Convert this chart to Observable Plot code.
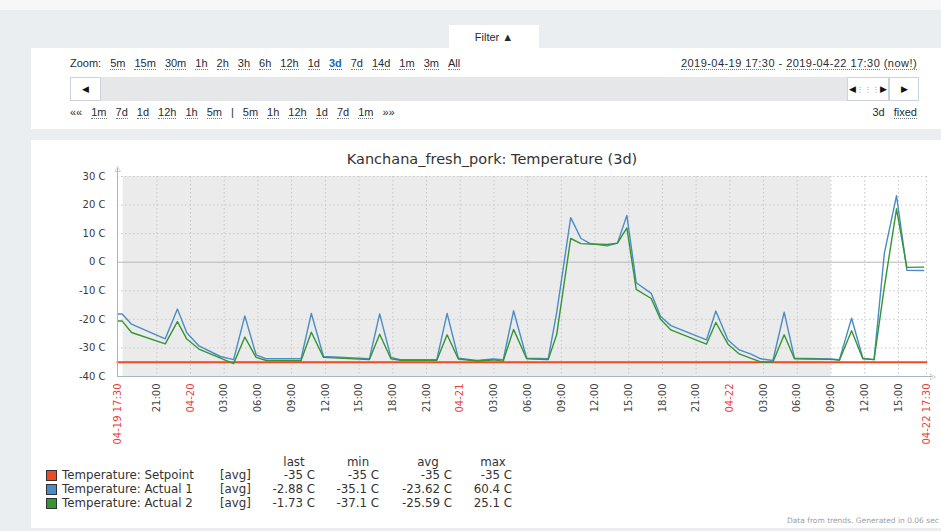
<!DOCTYPE html>
<html><head><meta charset="utf-8">
<script src="https://cdn.jsdelivr.net/npm/d3@7"></script>
<script src="https://cdn.jsdelivr.net/npm/@observablehq/plot@0.6"></script>
<style>
html,body{margin:0;padding:0;}
body{width:941px;height:531px;overflow:hidden;background:#ebeef0;position:relative;font-family:Arial,"Liberation Sans",sans-serif;color:#1f2c33;}
.abs{position:absolute;white-space:nowrap;}
.topstrip{left:0;top:0;width:941px;height:10px;background:#f6f7f8;}
.fpanel{left:31px;top:48px;width:910px;height:81px;background:#fff;}
.tab{left:449px;top:25px;width:90px;height:24px;background:#fff;font-size:11px;line-height:24px;text-align:center;}
.row{font-size:11px;line-height:13px;}
.row span{margin-right:9px;}
.lk{border-bottom:1px dotted #6d7a84;}
.sel{color:#1a66c2;font-weight:bold;border-bottom:1px dotted #1a66c2;}
.sbar{left:70px;top:77px;width:848px;height:24px;background:#e5e7e9;}
.btn{top:77px;height:22px;background:#fff;border:1px solid #cdd3d8;font-size:9px;line-height:22px;text-align:center;color:#111;}
.cpanel{left:31px;top:140px;width:910px;height:388px;background:#fff;}
.title{left:192px;width:600px;top:150px;text-align:center;font-family:"DejaVu Sans";font-size:14.5px;color:#333;line-height:18px;}
.lg{font-family:"DejaVu Sans";font-size:11.8px;color:#333;line-height:14px;}
.sq{width:9px;height:9px;border:1px solid #333;}
.foot{left:787px;top:516px;font-family:"DejaVu Sans";font-size:7.5px;color:#9aa0a5;}
#chart{position:absolute;left:0;top:166px;}
</style></head>
<body>
<div class="abs topstrip"></div>
<div class="abs fpanel"></div>
<div class="abs tab">Filter &#9650;</div>
<div class="abs row" style="left:70px;top:57px;"><span>Zoom:</span><span class="lk">5m</span><span class="lk">15m</span><span class="lk">30m</span><span class="lk">1h</span><span class="lk">2h</span><span class="lk">3h</span><span class="lk">6h</span><span class="lk">12h</span><span class="lk">1d</span><span class="sel">3d</span><span class="lk">7d</span><span class="lk">14d</span><span class="lk">1m</span><span class="lk">3m</span><span class="lk">All</span></div>
<div class="abs row" style="right:24px;top:57px;letter-spacing:0.45px;"><span class="lk" style="margin-right:0">2019-04-19 17:30</span> - <span class="lk" style="margin-right:0">2019-04-22 17:30</span> <span class="lk" style="margin-right:0">(now!)</span></div>
<div class="abs sbar"></div>
<div class="abs btn" style="left:70px;width:29px;">&#9664;</div>
<div class="abs btn" style="left:847px;width:40px;">&#9664;<span style="color:#999;font-size:8px">&#8942;&#8942;&#8942;</span>&#9654;</div>
<div class="abs btn" style="left:889px;width:28px;">&#9654;</div>
<div class="abs row" style="left:70px;top:106px;"><span>&laquo;&laquo;</span><span class="lk">1m</span><span class="lk">7d</span><span class="lk">1d</span><span class="lk">12h</span><span class="lk">1h</span><span class="lk">5m</span><span>|</span><span class="lk">5m</span><span class="lk">1h</span><span class="lk">12h</span><span class="lk">1d</span><span class="lk">7d</span><span class="lk">1m</span><span>&raquo;&raquo;</span></div>
<div class="abs row" style="right:24px;top:106px;"><span>3d</span><span class="lk" style="margin-right:0">fixed</span></div>
<div class="abs cpanel"></div>
<div class="abs title" id="title"></div>
<div id="chart"></div>
<div id="legend"></div>
<div class="abs foot">Data from trends. Generated in 0.06 sec</div>
<script>
// ---- data ----
const chartTitle = "Kanchana_fresh_pork: Temperature (3d)";
const rangeStart = "2019-04-19 17:30";
const rangeEnd = "2019-04-22 17:30";
const shadeStart = "2019-04-19 18:00";
const shadeEnd = "2019-04-22 09:00";
const yTicks = [-40, -30, -20, -10, 0, 10, 20, 30];
const times = [
"2019-04-19 17:30","2019-04-19 17:55","2019-04-19 18:45","2019-04-19 21:45","2019-04-19 22:50","2019-04-19 23:40",
"2019-04-20 00:45","2019-04-20 02:40","2019-04-20 03:50","2019-04-20 04:50","2019-04-20 05:50","2019-04-20 06:45",
"2019-04-20 09:50","2019-04-20 10:45","2019-04-20 11:50","2019-04-20 15:55","2019-04-20 16:50","2019-04-20 17:50",
"2019-04-20 18:40","2019-04-20 21:55","2019-04-20 22:50","2019-04-20 23:50",
"2019-04-21 01:30","2019-04-21 02:55","2019-04-21 03:50","2019-04-21 04:45","2019-04-21 05:55","2019-04-21 07:50",
"2019-04-21 08:35","2019-04-21 09:50","2019-04-21 10:45","2019-04-21 11:35","2019-04-21 13:05","2019-04-21 14:00",
"2019-04-21 14:50","2019-04-21 15:40","2019-04-21 17:00","2019-04-21 17:50","2019-04-21 18:45","2019-04-21 21:55",
"2019-04-21 22:45","2019-04-21 23:50",
"2019-04-22 00:50","2019-04-22 01:50","2019-04-22 02:45","2019-04-22 03:50","2019-04-22 04:50","2019-04-22 05:45",
"2019-04-22 09:00","2019-04-22 09:45","2019-04-22 10:50","2019-04-22 11:50","2019-04-22 12:50","2019-04-22 13:45",
"2019-04-22 14:50","2019-04-22 15:45","2019-04-22 17:15"];
const actual1 = [
-18.1,-18.1,-21.7,-26.8,-16.4,-24.7,
-29.3,-33.0,-34.1,-18.8,-32.4,-33.8,
-33.8,-17.9,-33.0,-33.8,-18.1,-33.3,
-34.1,-34.1,-17.9,-33.6,
-34.4,-33.9,-34.1,-17.0,-33.6,-33.8,
-17.7,15.6,8.3,6.5,5.7,6.7,
16.4,-7.2,-10.9,-19.0,-22.2,-27.2,
-17.1,-27.2,
-30.7,-32.1,-33.8,-34.4,-17.5,-33.6,
-33.9,-34.1,-19.6,-33.6,-34.1,3.2,
23.3,-2.8,-2.88];
const actual2 = [
-20.6,-20.6,-24.6,-28.6,-20.8,-26.9,
-30.4,-33.6,-35.5,-26.2,-33.3,-34.4,
-34.5,-24.5,-33.3,-34.1,-25.2,-33.8,
-34.3,-34.3,-25.4,-33.9,
-34.6,-34.2,-34.6,-23.5,-33.8,-34.1,
-25.4,8.3,6.5,6.4,6.2,6.7,
12.0,-9.5,-12.7,-20.0,-23.7,-28.7,
-21.1,-28.7,
-32.1,-33.6,-34.9,-34.9,-25.4,-33.8,
-34.0,-34.3,-24.0,-33.8,-34.1,-8.6,
18.7,-1.8,-1.73];
const setpointValue = -35;
const seriesNames = ["Temperature: Setpoint", "Temperature: Actual 1", "Temperature: Actual 2"];
const seriesColors = ["#ee4a25", "#4a8cc5", "#359535"];
const legendFunc = ["[avg]", "[avg]", "[avg]"];
const statHeaders = ["last", "min", "avg", "max"];
const statLast = ["-35 C", "-2.88 C", "-1.73 C"];
const statMin = ["-35 C", "-35.1 C", "-37.1 C"];
const statAvg = ["-35 C", "-23.62 C", "-25.59 C"];
const statMax = ["-35 C", "60.4 C", "25.1 C"];

// ---- build ----
document.getElementById("title").textContent = chartTitle;
const parse = d3.utcParse("%Y-%m-%d %H:%M");
const start = parse(rangeStart), end = parse(rangeEnd);
const rows = times.map((t, i) => ({t: parse(t), a1: actual1[i], a2: actual2[i]}));
const setRows = [{t: start, v: setpointValue}, {t: end, v: setpointValue}];
const shade = [{x1: parse(shadeStart), x2: parse(shadeEnd)}];
const midTicks = d3.utcHour.every(3).range(d3.utcHour.offset(start, 1), end);
const redLabels = [start, ...midTicks.filter(d => d.getUTCHours() === 0), end];
const grayLabels = midTicks.filter(d => d.getUTCHours() !== 0);
const fmtRed = d => (+d === +start || +d === +end) ? d3.utcFormat("%m-%d %H:%M")(d) : d3.utcFormat("%m-%d")(d);
const fmtGray = d3.utcFormat("%H:%M");
const axisColor = "#a9b5c0";
const gridColor = "#c8c8c8";
const arrowEnd = d3.utcMinute.offset(end, 35);

const chart = Plot.plot({
  width: 941, height: 290,
  marginLeft: 117, marginRight: 15, marginTop: 10, marginBottom: 80,
  style: {background: "transparent", overflow: "visible", fontFamily: "DejaVu Sans"},
  x: {type: "utc", domain: [start, end], axis: null},
  y: {domain: [-40, 30], axis: null},
  marks: [
    Plot.rect(shade, {x1: "x1", x2: "x2", y1: () => -40, y2: () => 30, fill: "#ebebeb"}),
    Plot.ruleY(yTicks.filter(d => d !== 0 && d !== -40), {stroke: gridColor, strokeDasharray: "1.5,2.5"}),
    Plot.ruleX([...midTicks, end], {stroke: gridColor, strokeDasharray: "1.5,2.5"}),
    Plot.ruleY([0], {stroke: "#b8b8b8", strokeWidth: 1}),
    Plot.line(setRows, {x: "t", y: "v", stroke: seriesColors[0], strokeWidth: 2}),
    Plot.line(rows, {x: "t", y: "a1", stroke: seriesColors[1], strokeWidth: 1.4}),
    Plot.line(rows, {x: "t", y: "a2", stroke: seriesColors[2], strokeWidth: 1.4}),
    Plot.ruleX([start], {y1: () => -40, y2: () => 32.8, stroke: axisColor}),
    Plot.ruleY([-40], {x1: () => start, x2: () => arrowEnd, stroke: axisColor}),
    Plot.text([start], {x: d => d, y: () => 32.8, text: () => "\u25B3", fill: axisColor, fontSize: 8}),
    Plot.text([arrowEnd], {x: d => d, y: () => -40, text: () => "\u25B7", fill: axisColor, fontSize: 8}),
    Plot.text(yTicks, {y: d => d, text: d => `${d} C`, frameAnchor: "left", dx: -12, textAnchor: "end", fontSize: 10, fill: "#3a3a3a"}),
    Plot.text(grayLabels, {x: d => d, text: fmtGray, frameAnchor: "bottom", dy: 7, rotate: -90, textAnchor: "end", lineAnchor: "middle", fontSize: 10, fill: "#444"}),
    Plot.text(redLabels, {x: d => d, text: fmtRed, frameAnchor: "bottom", dy: 7, rotate: -90, textAnchor: "end", lineAnchor: "middle", fontSize: 10, fill: "#e8413c"})
  ]
});
document.getElementById("chart").appendChild(chart);

// ---- legend ----
const lg = document.getElementById("legend");
function put(txt, style, cls) {
  const d = document.createElement("div");
  d.className = "abs " + (cls || "lg");
  d.style.cssText = style;
  d.textContent = txt;
  lg.appendChild(d);
  return d;
}
const colRight = [315, 379, 452, 512];
const colCenter = [294, 358, 428, 493];
statHeaders.forEach((h, j) => put(h, `left:${colCenter[j] - 30}px;width:60px;text-align:center;top:455px;`));
const cols = [statLast, statMin, statAvg, statMax];
seriesNames.forEach((name, i) => {
  const cy = 475 + i * 14;
  put("", `left:46px;top:${cy - 5}px;background:${seriesColors[i]};`, "sq");
  put(name, `left:62px;top:${cy - 7}px;`);
  put(legendFunc[i], `left:220px;top:${cy - 7}px;`);
  cols.forEach((c, j) => put(c[i], `left:${colRight[j] - 90}px;width:90px;text-align:right;top:${cy - 7}px;`));
});
</script>
</body></html>
